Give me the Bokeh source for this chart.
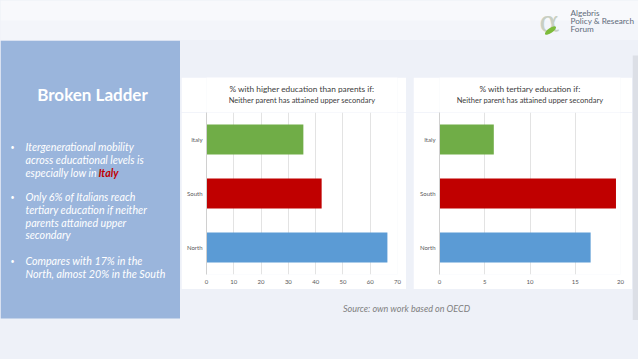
from bokeh.plotting import figure
from bokeh.models import Range1d, FactorRange, FixedTicker, Spacer
from bokeh.layouts import row, column
from bokeh.embed import file_html
from bokeh.resources import INLINE
from bokeh.core.properties import value

# ---------------- data ----------------
regions = ["North", "South", "Italy"]          # bottom -> top
higher_ed = [66.3, 42.2, 35.5]                 # % with higher education than parents
tertiary = [16.7, 19.5, 6.0]                   # % with tertiary education
bar_colors = ["#5b9bd5", "#c00000", "#70ad47"]
ticks_higher = [0, 10, 20, 30, 40, 50, 60, 70]
ticks_tertiary = [0, 5, 10, 15, 20]

title1 = "% with higher education than parents if:"
title2 = "% with tertiary education if:"
subtitle = "Neither parent has attained upper secondary"
source_text = "Source: own work based on OECD"
heading = "Broken Ladder"
bullet1 = ["Itergenerational mobility", "across educational levels is", "especially low in"]
bullet1_red = "Italy"
bullet2 = ["Only 6% of Italians reach", "tertiary education if neither", "parents attained upper", "secondary"]
bullet3 = ["Compares with 17% in the", "North, almost 20% in the South"]
logo_lines = ["Algebris", "Policy & Research", "Forum"]

BG = "#eef1f8"
PANEL = "#9ab5dc"
FONT = "Lato"


def blank(width, height, x0, x1, y0, y1, bg=BG):
    p = figure(width=width, height=height, output_backend="svg", toolbar_location=None,
               x_range=Range1d(x0, x1), y_range=Range1d(y1, y0),
               x_axis_type=None, y_axis_type=None, min_border=0)
    p.grid.visible = False
    p.outline_line_color = None
    p.background_fill_color = bg
    p.border_fill_color = bg
    return p


# ---------------- header ----------------
header = blank(638, 40, 0, 638, 0, 40, bg="#f3f5fa")
header.quad(left=[0], right=[638], top=[0], bottom=[20], fill_color="#f8f9fc", line_color=None)
header.text(x=[549], y=[21], text=["α"], text_font=value("DejaVu Serif"), text_font_size="30px",
            text_color="#c8cfc2", text_align="center", text_baseline="middle")
header.ellipse(x=[550], y=[30], width=13, height=5, angle=0.6, fill_color="#7dbb3a", line_color=None)
header.text(x=[570, 570, 570], y=[12.5, 20.7, 28.7], text=logo_lines, text_font=value(FONT),
            text_font_size="8.2px", text_color="#5f6b7a", text_baseline="middle")

# ---------------- left panel ----------------
left = blank(180, 280, 0, 180, 40, 320)
left.quad(left=[0], right=[180], top=[40], bottom=[318], fill_color=PANEL, line_color=None)
left.text(x=[92], y=[94], text=[heading], text_font=value(FONT), text_font_style="bold",
          text_font_size="17px", text_color="white", text_align="center", text_baseline="middle")

lines, ys = [], []
for blk, y0 in ((bullet1, 146), (bullet2, 196), (bullet3, 260)):
    for i, t in enumerate(blk):
        lines.append(t)
        ys.append(y0 + i * 12.8)
left.text(x=[25] * len(lines), y=ys, text=lines, text_font=value(FONT), text_font_style="italic",
          text_font_size="10.7px", text_color="white", text_baseline="middle")
left.text(x=[98], y=[146 + 2 * 12.8], text=[bullet1_red], text_font=value(FONT),
          text_font_style="bold italic", text_font_size="10.7px", text_color="#c00000",
          text_baseline="middle")
left.text(x=[12, 12, 12], y=[146, 196, 260], text=["•", "•", "•"], text_font=value(FONT),
          text_font_size="7px", text_color="white", text_align="center", text_baseline="middle")


# ---------------- charts ----------------
def title_box(width, x0, ttl):
    t = blank(width, 35, x0, x0 + width, 77, 112, bg="white")
    cx = x0 + width / 2
    t.text(x=[cx], y=[88], text=[ttl], text_font=value(FONT), text_font_size="8.3px",
           text_color="#404040", text_align="center", text_baseline="middle")
    t.text(x=[cx], y=[99.5], text=[subtitle], text_font=value(FONT), text_font_size="7.5px",
           text_color="#404040", text_align="center", text_baseline="middle")
    return t


def bar_chart(width, vals, end, ticks, min_left, min_right):
    p = figure(width=width, height=177, output_backend="svg", toolbar_location=None,
               y_range=FactorRange(factors=regions), x_range=Range1d(0, end),
               min_border_left=min_left, min_border_right=min_right,
               min_border_top=0, min_border_bottom=15)
    p.hbar(y=regions, right=vals, left=0, height=0.56, fill_color=bar_colors, line_color=None)
    p.background_fill_color = "white"
    p.border_fill_color = "white"
    p.outline_line_color = None
    p.ygrid.grid_line_color = None
    p.xgrid.grid_line_color = "#e3e3e3"
    p.xaxis.ticker = FixedTicker(ticks=ticks)
    for ax in (p.xaxis[0], p.yaxis[0]):
        ax.major_tick_line_color = None
        ax.minor_tick_line_color = None
        ax.major_tick_out = 0
        ax.major_tick_in = 0
        ax.minor_tick_out = 0
        ax.minor_tick_in = 0
        ax.major_label_text_font = FONT
        ax.major_label_text_font_size = "6px"
        ax.major_label_text_color = "#595959"
    p.xaxis.axis_line_color = None
    p.yaxis.axis_line_color = "#d0d0d0"
    p.xaxis.major_label_standoff = 5
    p.yaxis.major_label_standoff = 4
    return p


c1 = column(title_box(225, 181, title1), bar_chart(225, higher_ed, 70, ticks_higher, 25, 9))
c2 = column(title_box(219, 413, title2), bar_chart(219, tertiary, 20, ticks_tertiary, 26, 12))

charts = row(Spacer(width=1, height=212), c1, Spacer(width=7, height=212), c2)

bottom = blank(452, 31, 180, 632, 289, 320)
bottom.text(x=[406], y=[307.5], text=[source_text], text_font=value(FONT), text_font_style="italic",
            text_font_size="9px", text_color="#7f7f7f", text_align="center", text_baseline="middle")

right = column(Spacer(width=452, height=37), charts, bottom)

strip = blank(6, 280, 632, 638, 40, 320)
strip.quad(left=[632], right=[638], top=[55], bottom=[320], fill_color="#dcdfe6", line_color=None)

middle = row(left, right, strip)
page = column(header, middle, Spacer(width=638, height=39), styles={"background-color": BG})

open("out.html", "w").write(file_html(page, INLINE))
